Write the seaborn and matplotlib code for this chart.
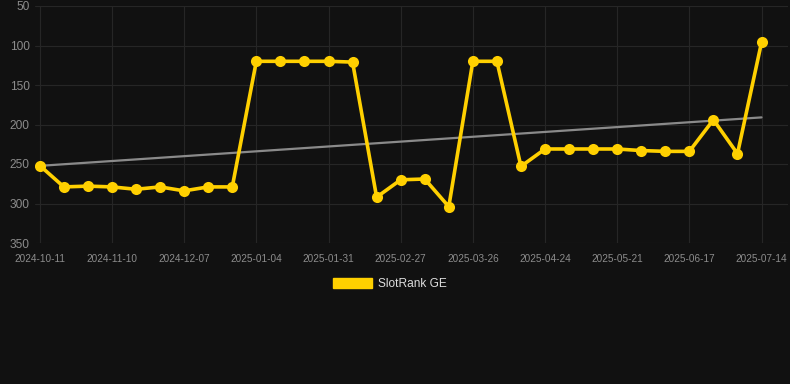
import numpy as np
import pandas as pd
import matplotlib
matplotlib.use("Agg")
import matplotlib.pyplot as plt
from matplotlib.patches import Patch
import seaborn as sns

# rank values, one point per snapshot (31 points), lower rank = better
rank_values = [252, 279, 278, 279, 282, 279, 284, 279, 279,
               120, 120, 120, 120, 121, 292, 270, 269, 304,
               120, 120, 253, 231, 231, 231, 231, 233, 234, 234,
               194, 237, 96]
# only every third snapshot gets a date label
tick_labels = ["2024-10-11", "2024-11-10", "2024-12-07", "2025-01-04",
               "2025-01-31", "2025-02-27", "2025-03-26", "2025-04-24",
               "2025-05-21", "2025-06-17", "2025-07-14"]
series_name = "SlotRank GE"

bg = "#111111"
sns.set_style("dark", {"axes.facecolor": bg, "figure.facecolor": bg,
                       "grid.color": "#262626", "axes.edgecolor": bg})
plt.rcParams["font.family"] = ["Liberation Sans", "DejaVu Sans"]

df = pd.DataFrame({"idx": np.arange(len(rank_values)), "rank": rank_values})

# linear trend over the series
slope, intercept = np.polyfit(df["idx"], df["rank"], 1)
df["trend"] = intercept + slope * df["idx"]

fig = plt.figure(figsize=(7.9, 3.84), dpi=100)
ax = fig.add_axes([35 / 790, 1 - 243 / 384, 753 / 790, 237 / 384])

sns.lineplot(data=df, x="idx", y="trend", ax=ax, color="#8a8a8a", linewidth=1.6)
sns.lineplot(data=df, x="idx", y="rank", ax=ax, color="#FFD000", linewidth=2.6,
             marker="o", markersize=8, markeredgewidth=0)

ax.set_ylim(350, 50)
ax.set_xlim(-0.2, 31.1)
ax.set_yticks([50, 100, 150, 200, 250, 300, 350])
ax.set_xticks(np.arange(0, len(rank_values), 3))
ax.set_xticklabels(tick_labels)
ax.tick_params(axis="y", labelsize=8.6, colors="#8c8c8c", length=0, pad=4)
ax.tick_params(axis="x", labelsize=7.2, colors="#8c8c8c", length=5, color="#262626", pad=3)
ax.grid(True, color="#262626", linewidth=0.8)
ax.set_xlabel("")
ax.set_ylabel("")
for s in ax.spines.values():
    s.set_visible(False)

fig.legend(handles=[Patch(facecolor="#FFD000", edgecolor="#FFD000")],
           labels=[series_name], loc="center", bbox_to_anchor=(390 / 790, 1 - 284 / 384),
           frameon=False, fontsize=8.6, labelcolor="#dddddd",
           handlelength=3.3, handleheight=0.95, handletextpad=0.5)

fig.savefig("out.png", dpi=100, facecolor=bg)
